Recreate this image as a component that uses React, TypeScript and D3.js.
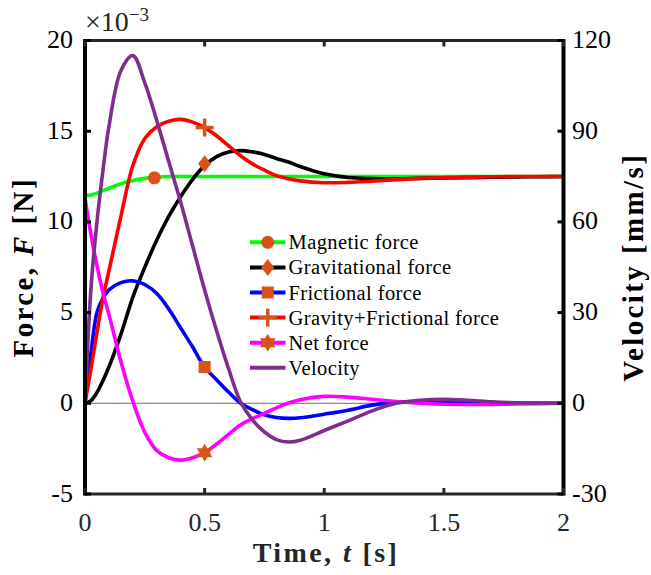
import React from 'react';
import * as d3 from 'd3';

// ---------- data (forces in ×10^-3 N, velocity in mm/s) ----------
const time = [0, 0.025, 0.05, 0.075, 0.1, 0.15, 0.2, 0.25, 0.3, 0.35, 0.4, 0.45, 0.5, 0.55, 0.6, 0.65, 0.7, 0.75, 0.8, 0.85, 0.9, 1.0, 1.1, 1.2, 1.3, 1.4, 1.5, 1.6, 1.7, 1.8, 1.9, 2.0];
const magnetic = [11.45, 11.48, 11.58, 11.72, 11.85, 12.1, 12.28, 12.4, 12.47, 12.5, 12.5, 12.5, 12.5, 12.5, 12.5, 12.5, 12.5, 12.5, 12.5, 12.5, 12.5, 12.5, 12.5, 12.5, 12.5, 12.5, 12.5, 12.5, 12.5, 12.5, 12.5, 12.5];
const gravitational = [0, 0.15, 0.6, 1.25, 2.0, 3.8, 5.85, 7.5, 9.0, 10.3, 11.4, 12.35, 13.1, 13.6, 13.85, 13.93, 13.86, 13.72, 13.5, 13.3, 13.05, 12.65, 12.45, 12.39, 12.38, 12.4, 12.42, 12.44, 12.46, 12.48, 12.49, 12.5];
const frictional = [0, 2.8, 5.0, 5.8, 6.25, 6.65, 6.75, 6.55, 6.05, 5.2, 4.15, 3.1, 2.0, 1.3, 0.62, 0.0, -0.35, -0.64, -0.78, -0.83, -0.8, -0.6, -0.38, -0.1, 0.05, 0.08, 0.07, 0.05, 0.03, 0.01, 0, 0];
const gravFric = [0, 1.9, 3.9, 5.8, 7.3, 10.3, 13.1, 14.6, 15.25, 15.55, 15.65, 15.5, 15.2, 14.75, 14.2, 13.65, 13.2, 12.85, 12.55, 12.38, 12.26, 12.16, 12.18, 12.25, 12.33, 12.4, 12.44, 12.47, 12.49, 12.5, 12.5, 12.5];
const netForce = [11.3, 9.3, 7.6, 6.1, 4.9, 2.3, 0.1, -1.6, -2.6, -3.0, -3.13, -3.0, -2.72, -2.25, -1.72, -1.2, -0.85, -0.55, -0.25, 0.02, 0.2, 0.38, 0.34, 0.22, 0.1, 0.0, -0.05, -0.07, -0.06, -0.04, -0.02, 0];
const velocity = [0, 38, 60, 77, 91.5, 110, 115, 106, 93.5, 80, 66.5, 52, 37.5, 24, 11.5, 0.5, -5.5, -9.5, -12, -12.8, -12.2, -9, -5.8, -2.5, 0, 1.0, 1.3, 1.0, 0.5, 0.2, 0.1, 0];

const xTicks = [0, 0.5, 1, 1.5, 2];
const xTickLabels = ['0', '0.5', '1', '1.5', '2'];
const yLeftTicks = [-5, 0, 5, 10, 15, 20];
const yLeftTickLabels = ['-5', '0', '5', '10', '15', '20'];
const yRightTicks = [-30, 0, 30, 60, 90, 120];
const yRightTickLabels = ['-30', '0', '30', '60', '90', '120'];

const seriesNames = ['Magnetic force', 'Gravitational force', 'Frictional force', 'Gravity+Frictional force', 'Net force', 'Velocity'];
const seriesColors = ['#00FF00', '#000000', '#0000FF', '#FF0000', '#FF00FF', '#7E2F8E'];
const markerShapes = ['circle', 'diamond', 'square', 'plus', 'hexagram', 'none'];
const markerTimes = [0.29, 0.5, 0.5, 0.5, 0.5];
const markerValues = [12.43, 13.2, 2.0, 15.2, -2.73];
const markerColor = '#D95319';

// ---------- layout ----------
const W = 651, H = 575;
const L = 85, R = 563.5, T = 40.5, B = 494;
const serif = '"Liberation Serif", "Times New Roman", serif';

function Marker({ shape, cx, cy }: { shape: string; cx: number; cy: number }) {
  if (shape === 'circle') return <circle cx={cx} cy={cy} r={6.5} fill={markerColor} />;
  if (shape === 'square') return <rect x={cx - 6} y={cy - 6} width={12} height={12} fill={markerColor} />;
  if (shape === 'diamond') {
    const p = `M${cx},${cy - 8.5}L${cx + 6.5},${cy}L${cx},${cy + 8.5}L${cx - 6.5},${cy}Z`;
    return <path d={p} fill={markerColor} />;
  }
  if (shape === 'plus') {
    return (
      <g stroke={markerColor} strokeWidth={3.5}>
        <line x1={cx - 9} x2={cx + 9} y1={cy} y2={cy} />
        <line x1={cx} x2={cx} y1={cy - 9} y2={cy + 9} />
      </g>
    );
  }
  if (shape === 'hexagram') {
    const Ro = 9, ri = Ro / Math.sqrt(3);
    const pts = d3.range(12).map((k) => {
      const a = -Math.PI / 2 + (k * Math.PI) / 6;
      const r = k % 2 === 0 ? Ro : ri;
      return [cx + r * Math.cos(a), cy + r * Math.sin(a)];
    });
    return <path d={'M' + pts.map((p) => p.join(',')).join('L') + 'Z'} fill={markerColor} />;
  }
  return null;
}

export default function App() {
  const x = d3.scaleLinear().domain([0, 2]).range([L, R]);
  const yL = d3.scaleLinear().domain([-5, 20]).range([B, T]);
  const yR = d3.scaleLinear().domain([-30, 120]).range([B, T]);

  const forceSeries = [magnetic, gravitational, frictional, gravFric, netForce];
  const lineL = d3.line<number>().x((_, i) => x(time[i])).y((d) => yL(d)).curve(d3.curveCatmullRom.alpha(0.5));
  const lineR = d3.line<number>().x((_, i) => x(time[i])).y((d) => yR(d)).curve(d3.curveCatmullRom.alpha(0.5));

  const legendX0 = 250, legendX1 = 285.5, legendTextX = 288.5;
  const legendY0 = 242.3, legendDy = 25.1;

  return (
    <svg width={W} height={H} style={{ position: 'absolute', left: 0, top: 0, background: '#fff', fontFamily: serif }}>
      <rect x={0} y={0} width={W} height={H} fill="#fff" />
      <defs>
        <clipPath id="plotClip">
          <rect x={L} y={T} width={R - L} height={B - T} />
        </clipPath>
      </defs>

      {/* zero line */}
      <line x1={L} x2={R} y1={yL(0)} y2={yL(0)} stroke="#6e6e6e" strokeWidth={1} />

      <g clipPath="url(#plotClip)" fill="none" strokeLinejoin="round" strokeLinecap="round">
        {forceSeries.map((s, i) => (
          <path key={i} d={lineL(s) || ''} stroke={seriesColors[i]} strokeWidth={3.6} />
        ))}
      </g>
      {markerTimes.map((t, i) => (
        <Marker key={i} shape={markerShapes[i]} cx={x(t)} cy={yL(markerValues[i])} />
      ))}
      <g clipPath="url(#plotClip)" fill="none" strokeLinejoin="round" strokeLinecap="round">
        <path d={lineR(velocity) || ''} stroke={seriesColors[5]} strokeWidth={3.6} />
      </g>

      {/* axes box */}
      <line x1={L} x2={R} y1={T} y2={T} stroke="#262626" strokeWidth={3} />
      <line x1={L} x2={R} y1={B} y2={B} stroke="#262626" strokeWidth={3} />
      <line x1={L} x2={L} y1={T - 1.5} y2={B + 1.5} stroke="#000" strokeWidth={4} />
      <line x1={R} x2={R} y1={T - 1.5} y2={B + 1.5} stroke="#000" strokeWidth={4} />

      {/* x ticks */}
      {xTicks.map((t, i) => (
        <g key={'xt' + i}>
          <line x1={x(t)} x2={x(t)} y1={B} y2={B - 6} stroke="#262626" strokeWidth={3} />
          <line x1={x(t)} x2={x(t)} y1={T} y2={T + 6} stroke="#262626" strokeWidth={3} />
          <text x={x(t)} y={531} fontSize={26} textAnchor="middle" fill="#262626">{xTickLabels[i]}</text>
        </g>
      ))}
      {/* left ticks */}
      {yLeftTicks.map((v, i) => (
        <g key={'yl' + i}>
          <line x1={L} x2={L + 6} y1={yL(v)} y2={yL(v)} stroke="#000" strokeWidth={3} />
          <text x={73} y={yL(v) + 7.5} fontSize={26} textAnchor="end" fill="#000">{yLeftTickLabels[i]}</text>
        </g>
      ))}
      {/* right ticks */}
      {yRightTicks.map((v, i) => (
        <g key={'yr' + i}>
          <line x1={R} x2={R - 6} y1={yR(v)} y2={yR(v)} stroke="#000" strokeWidth={3} />
          <text x={572} y={yR(v) + 7.5} fontSize={26} textAnchor="start" fill="#000">{yRightTickLabels[i]}</text>
        </g>
      ))}

      {/* exponent */}
      <text x={85} y={31} fontSize={28} fill="#262626">
        ×10<tspan dy={-10} fontSize={19}>−3</tspan>
      </text>

      {/* axis labels */}
      <text x={326} y={562} fontSize={28} fontWeight="bold" textAnchor="middle" fill="#262626" letterSpacing={2.4}>
        Time, <tspan fontStyle="italic">t</tspan> [s]
      </text>
      <text transform={`translate(33,${(T + B) / 2}) rotate(-90)`} fontSize={29} fontWeight="bold" textAnchor="middle" fill="#000" letterSpacing={2.4}>
        Force, <tspan fontStyle="italic">F</tspan> [N]
      </text>
      <text transform={`translate(643,${(T + B) / 2}) rotate(-90)`} fontSize={29} fontWeight="bold" textAnchor="middle" fill="#000" letterSpacing={2.4}>
        Velocity [mm/s]
      </text>

      {/* legend */}
      {seriesNames.map((name, i) => {
        const yy = legendY0 + i * legendDy;
        return (
          <g key={'lg' + i}>
            <line x1={legendX0} x2={legendX1} y1={yy} y2={yy} stroke={seriesColors[i]} strokeWidth={4} />
            <Marker shape={markerShapes[i]} cx={(legendX0 + legendX1) / 2} cy={yy} />
            <text x={legendTextX} y={yy + 7} fontSize={20.5} fill="#000" letterSpacing={0.4}>{name}</text>
          </g>
        );
      })}
    </svg>
  );
}
